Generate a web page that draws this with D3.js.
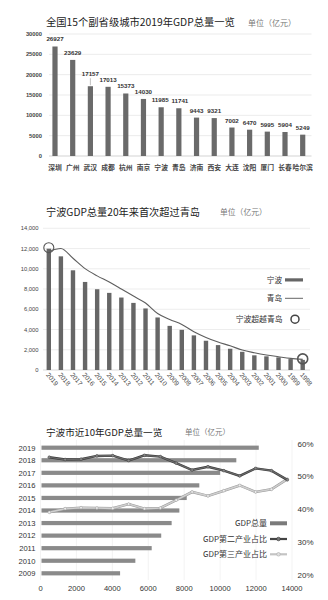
<!DOCTYPE html>
<html><head><meta charset="utf-8">
<script src="https://cdn.jsdelivr.net/npm/d3@7"></script>
<style>
body{margin:0;background:#fff;}
svg{display:block;}
text{font-family:"Noto Sans CJK SC","Noto Sans",sans-serif;}
.num{font-family:"Liberation Sans",Arial,sans-serif;}
</style></head>
<body><svg id="c" width="328" height="600"></svg>
<script>
// ---- Chart 1 data ----
const cities = ["深圳","广州","武汉","成都","杭州","南京","宁波","青岛","济南","西安","大连","沈阳","厦门","长春","哈尔滨"];
const cityGDP = [26927,23629,17157,17013,15373,14030,11985,11741,9443,9321,7002,6470,5995,5904,5249];
const ticks1 = [0,5000,10000,15000,20000,25000,30000];
// ---- Chart 2 data ----
const years2 = ["2019","2018","2017","2016","2015","2014","2013","2012","2011","2010","2009","2008","2007","2006","2005","2004","2003","2002","2001","2000","1999","1998"];
const ningbo = [11985,11230,9850,8700,7980,7620,7160,6630,6080,5190,4360,3970,3420,2890,2460,2100,1800,1450,1350,1250,1080,1000];
const qingdao = [11741,12001,11037,10011,9300,8692,8007,7302,6616,5580,4990,4500,3780,3220,2760,2390,1970,1700,1480,1310,1150,1050];
const ticks2 = [0,2000,4000,6000,8000,10000,12000,14000];
const overtakeYears = ["2019","1998"];
// ---- Chart 3 data ----
const years3 = ["2019","2018","2017","2016","2015","2014","2013","2012","2011","2010","2009"];
const gdp3 = [12150,10900,10000,8840,8140,7730,7300,6720,6190,5280,4430];
const ticks3 = [0,2000,4000,6000,8000,10000,12000,14000];
const lineYears = ["2004","2005","2006","2007","2008","2009","2010","2011","2012","2013","2014","2015","2016","2017","2018","2019"];
const secondShare = [55.8,55.1,55.2,56.2,56.3,54.8,56.4,56.0,54.0,51.9,52.9,51.7,50.1,52.4,51.7,48.9];
const thirdShare = [39.0,40.1,40.4,40.3,40.2,41.5,40.1,40.3,42.7,45.2,44.0,45.6,47.2,45.2,46.0,49.1];
const pctTicks = [20,30,40,50,60];

const svg = d3.select("#c");
svg.append("rect").attr("width",328).attr("height",600).attr("fill","#fff");

const unitTxt = "单位（亿元）";

// ================= Chart 1 =================
{
  const g = svg.append("g");
  const x = d3.scalePoint().domain(cities).range([55, 302.7]);
  const y = d3.scaleLinear().domain([0,30000]).range([156, 34]);
  g.append("text").attr("x",46).attr("y",26).attr("font-size",10.3).attr("fill","#222").text("全国15个副省级城市2019年GDP总量一览");
  g.append("text").attr("x",248).attr("y",25.5).attr("font-size",8).attr("fill","#777").text(unitTxt);
  g.selectAll("line.grid").data(ticks1).join("line")
    .attr("x1",49).attr("x2",311.5).attr("y1",d=>y(d)).attr("y2",d=>y(d))
    .attr("stroke",d=>d===0?"#c8c8c8":"#e6e6e6").attr("stroke-width",0.8);
  g.selectAll("text.yt").data(ticks1).join("text").attr("class","num")
    .attr("x",42).attr("y",d=>y(d)+2).attr("text-anchor","end")
    .attr("font-size",5.8).attr("font-weight","bold").attr("fill","#444").text(d=>d);
  g.selectAll("rect.bar").data(cityGDP).join("rect")
    .attr("x",(d,i)=>x(cities[i])-2.6).attr("width",5.2)
    .attr("y",d=>y(d)).attr("height",d=>y(0)-y(d)).attr("fill","#6a6a6a");
  g.selectAll("text.val").data(cityGDP).join("text").attr("class","num")
    .attr("x",(d,i)=>x(cities[i])+(i===6?-1:(i===7?1:0)))
    .attr("y",(d,i)=>y(d)-(i===2?10:5))
    .attr("text-anchor","middle").attr("font-size",6.2).attr("font-weight","bold").attr("fill","#333").text(d=>d);
  // leader line for offset label
  g.append("line").attr("x1",x(cities[2])).attr("x2",x(cities[2]))
    .attr("y1",y(cityGDP[2])-8).attr("y2",y(cityGDP[2])-1).attr("stroke","#999").attr("stroke-width",0.6);
  g.selectAll("text.cat").data(cities).join("text")
    .attr("x",d=>x(d)).attr("y",170).attr("text-anchor","middle")
    .attr("font-size",6.8).attr("font-weight","bold").attr("fill","#444").text(d=>d);
}

// ================= Chart 2 =================
{
  const g = svg.append("g");
  const x = d3.scalePoint().domain(years2).range([48.8, 302.7]);
  const y = d3.scaleLinear().domain([0,14000]).range([370, 228.3]);
  g.append("text").attr("x",46).attr("y",216).attr("font-size",10.2).attr("fill","#222").text("宁波GDP总量20年来首次超过青岛");
  g.append("text").attr("x",220).attr("y",215).attr("font-size",7.8).attr("fill","#777").text(unitTxt);
  g.selectAll("line.grid").data(ticks2).join("line")
    .attr("x1",43).attr("x2",310).attr("y1",d=>y(d)).attr("y2",d=>y(d))
    .attr("stroke",d=>d===0?"#cfcfcf":"#e8e8e8").attr("stroke-width",0.8);
  g.selectAll("text.yt").data(ticks2).join("text").attr("class","num")
    .attr("x",38.5).attr("y",d=>y(d)+2).attr("text-anchor","end")
    .attr("font-size",5.8).attr("fill","#444").text(d=>d3.format(",")(d));
  g.selectAll("rect.bar").data(ningbo).join("rect")
    .attr("x",(d,i)=>x(years2[i])-2.2).attr("width",4.4)
    .attr("y",d=>y(d)).attr("height",d=>y(0)-y(d)).attr("fill","#666");
  const line = d3.line().x((d,i)=>x(years2[i])).y(d=>y(d)).curve(d3.curveMonotoneX);
  g.append("path").datum(qingdao).attr("d",line).attr("fill","none").attr("stroke","#5e5e5e").attr("stroke-width",1.1);
  g.selectAll("circle.ov").data(overtakeYears).join("circle")
    .attr("cx",d=>x(d)).attr("cy",d=>y(ningbo[years2.indexOf(d)])-1)
    .attr("r",5).attr("fill","none").attr("stroke","#555").attr("stroke-width",d=>d==="1998"?1.6:1.1);
  g.selectAll("text.xt").data(years2).join("text").attr("class","num")
    .attr("transform",d=>`translate(${x(d)-3},${375}) rotate(50)`)
    .attr("font-size",6.6).attr("fill","#444").text(d=>d);
  // legend
  const lg = g.append("g");
  lg.append("text").attr("x",282).attr("y",282.8).attr("text-anchor","end").attr("font-size",7.6).attr("fill","#333").text("宁波");
  lg.append("rect").attr("x",285).attr("y",278.3).attr("width",18).attr("height",3.2).attr("fill","#666");
  lg.append("text").attr("x",282).attr("y",301).attr("text-anchor","end").attr("font-size",7.6).attr("fill","#333").text("青岛");
  lg.append("line").attr("x1",285).attr("x2",303).attr("y1",298.3).attr("y2",298.3).attr("stroke","#666").attr("stroke-width",1);
  lg.append("text").attr("x",282.5).attr("y",322).attr("text-anchor","end").attr("font-size",7.8).attr("fill","#333").text("宁波超越青岛");
  lg.append("circle").attr("cx",295).attr("cy",319.2).attr("r",4).attr("fill","none").attr("stroke","#444").attr("stroke-width",1.5);
}

// ================= Chart 3 =================
{
  const g = svg.append("g");
  const x = d3.scaleLinear().domain([0,14000]).range([40.5, 292]);
  const y = d3.scalePoint().domain(years3).range([447.7, 573.3]);
  const xl = d3.scalePoint().domain(lineYears).range([49.3, 287.3]);
  const yr = d3.scaleLinear().domain([20,60]).range([574.5, 443.5]);
  g.append("text").attr("x",46).attr("y",436).attr("font-size",9.6).attr("fill","#222").text("宁波市近10年GDP总量一览");
  g.append("text").attr("x",185).attr("y",435).attr("font-size",7.5).attr("fill","#777").text(unitTxt);
  g.selectAll("line.vgrid").data(ticks3).join("line")
    .attr("x1",d=>x(d)).attr("x2",d=>x(d)).attr("y1",440).attr("y2",580)
    .attr("stroke","#f0f0f0").attr("stroke-width",0.8);
  g.selectAll("rect.bar").data(gdp3).join("rect")
    .attr("x",x(0)+1).attr("y",(d,i)=>y(years3[i])-2.1).attr("height",4.2)
    .attr("width",d=>x(d)-x(0)-1).attr("fill","#8a8a8a");
  g.selectAll("text.yl").data(years3).join("text").attr("class","num")
    .attr("x",35.5).attr("y",d=>y(d)+2.8).attr("text-anchor","end")
    .attr("font-size",7.6).attr("fill","#333").text(d=>d);
  g.selectAll("text.xt").data(ticks3).join("text").attr("class","num")
    .attr("x",d=>x(d)).attr("y",591).attr("text-anchor","middle")
    .attr("font-size",7.6).attr("fill","#333").text(d=>d);
  g.selectAll("text.pt").data(pctTicks).join("text").attr("class","num")
    .attr("x",297.5).attr("y",d=>yr(d)+3).attr("font-size",8).attr("fill","#333").text(d=>d+"%");
  const ln = d3.line().x((d,i)=>xl(lineYears[i])).y(d=>yr(d));
  // third share (light)
  g.append("path").datum(thirdShare).attr("d",ln).attr("fill","none").attr("stroke","#9a9a9a").attr("stroke-width",2.6);
  g.append("path").datum(thirdShare).attr("d",ln).attr("fill","none").attr("stroke","#cfcfcf").attr("stroke-width",1.6);
  g.selectAll("circle.t").data(thirdShare).join("circle")
    .attr("cx",(d,i)=>xl(lineYears[i])).attr("cy",d=>yr(d)).attr("r",1.4).attr("fill","#eee").attr("stroke","#999").attr("stroke-width",0.5);
  // second share (dark)
  g.append("path").datum(secondShare).attr("d",ln).attr("fill","none").attr("stroke","#3c3c3c").attr("stroke-width",2.4);
  g.append("path").datum(secondShare).attr("d",ln).attr("fill","none").attr("stroke","#6a6a6a").attr("stroke-width",1.2);
  g.selectAll("circle.s").data(secondShare).join("circle")
    .attr("cx",(d,i)=>xl(lineYears[i])).attr("cy",d=>yr(d)).attr("r",1.4).attr("fill","#888").attr("stroke","#444").attr("stroke-width",0.5);
  // legend
  const lg = g.append("g");
  lg.append("text").attr("x",267).attr("y",526).attr("text-anchor","end").attr("font-size",8).attr("fill","#333").text("GDP总量");
  lg.append("rect").attr("x",270).attr("y",521.3).attr("width",17).attr("height",4).attr("fill","#7a7a7a");
  lg.append("text").attr("x",267).attr("y",542).attr("text-anchor","end").attr("font-size",8).attr("fill","#333").text("GDP第二产业占比");
  lg.append("line").attr("x1",270).attr("x2",287).attr("y1",539).attr("y2",539).attr("stroke","#444").attr("stroke-width",2.2);
  lg.append("circle").attr("cx",278.5).attr("cy",539).attr("r",1.8).attr("fill","#777").attr("stroke","#333").attr("stroke-width",0.6);
  lg.append("text").attr("x",267).attr("y",557.3).attr("text-anchor","end").attr("font-size",8).attr("fill","#333").text("GDP第三产业占比");
  lg.append("line").attr("x1",270).attr("x2",287).attr("y1",554.3).attr("y2",554.3).attr("stroke","#c4c4c4").attr("stroke-width",2.2);
  lg.append("circle").attr("cx",278.5).attr("cy",554.3).attr("r",1.8).attr("fill","#e0e0e0").attr("stroke","#aaa").attr("stroke-width",0.6);
}
</script></body></html>
